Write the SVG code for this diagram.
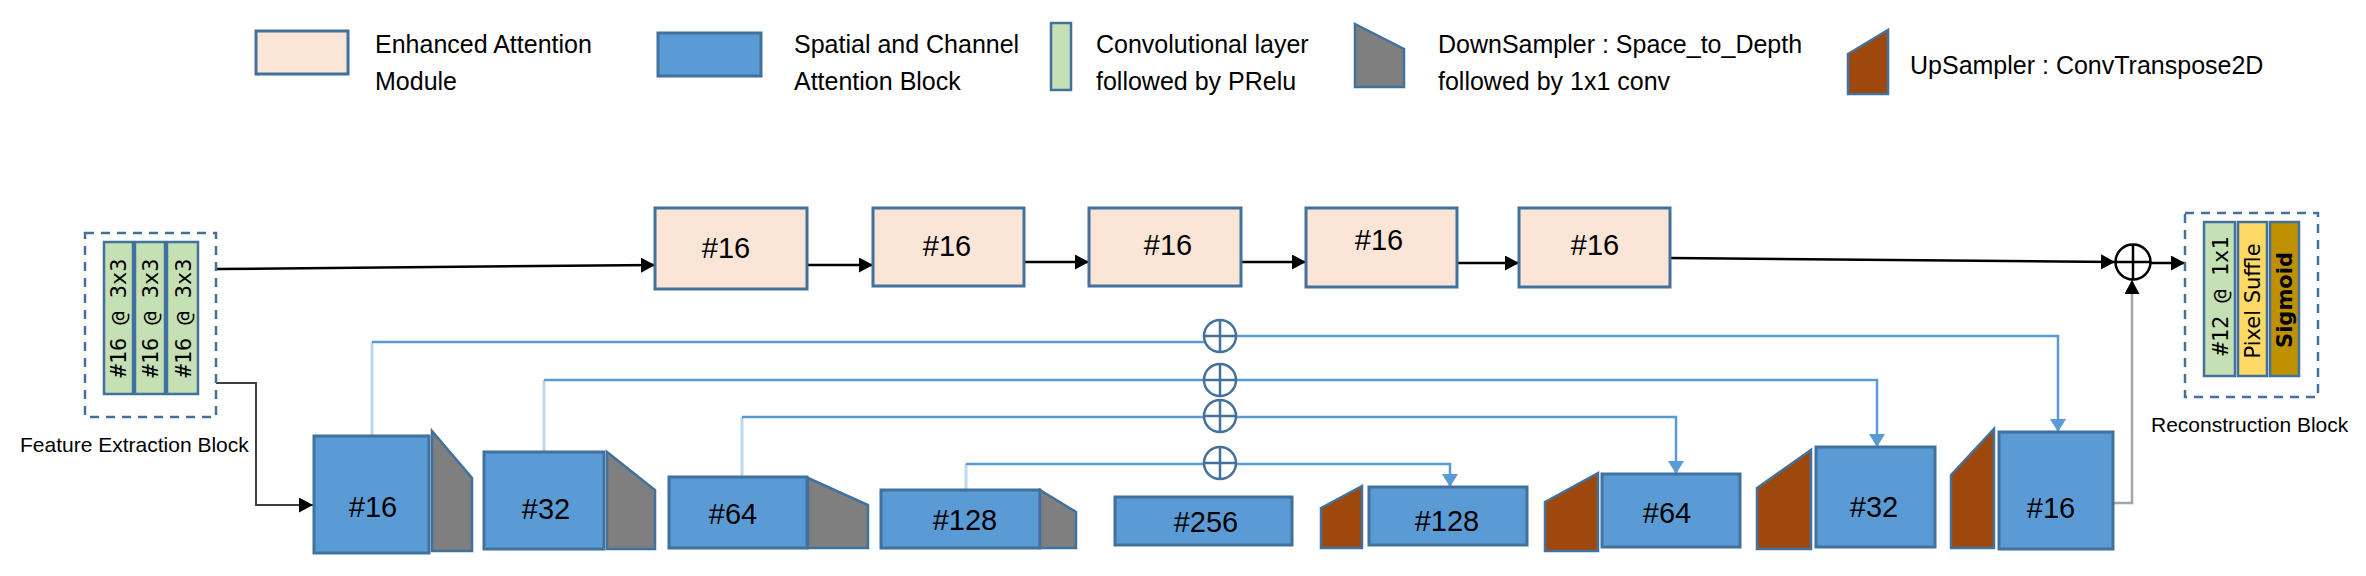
<svg xmlns="http://www.w3.org/2000/svg" width="2366" height="576" viewBox="0 0 2366 576">
<defs>
<style>
.lg{font-family:"Liberation Sans",Arial,sans-serif;font-size:25px;fill:#000}
.lb{font-family:"Liberation Sans",Arial,sans-serif;font-size:21px;fill:#000}
.num{font-family:"Liberation Sans",Arial,sans-serif;font-size:29px;fill:#000;text-anchor:middle}
.mono{font-family:"DejaVu Sans Mono","Liberation Mono",monospace;font-size:22px;fill:#000;text-anchor:middle}
.sans{font-family:"DejaVu Sans","Liberation Sans",sans-serif;font-size:21px;fill:#000;text-anchor:middle}
.eam{fill:#FBE5D6;stroke:#41719C;stroke-width:3}
.sca{fill:#5B9BD5;stroke:#41719C;stroke-width:3}
.conv{fill:#C5E0B4;stroke:#41719C;stroke-width:2.5}
.ds{fill:#7F7F7F;stroke:#41719C;stroke-width:2.5;stroke-linejoin:miter}
.us{fill:#9E480E;stroke:#41719C;stroke-width:2.5}
.dash{fill:none;stroke:#41719C;stroke-width:2.5;stroke-dasharray:9 7}
.blk{fill:none;stroke:#000;stroke-width:2.5}
.riser{fill:none;stroke:#BDD7EE;stroke-width:3}
.skip{fill:none;stroke:#5B9BD5;stroke-width:2.5}
.plus{fill:#fff;stroke:#41719C;stroke-width:2.5}
</style>
<marker id="ab" markerUnits="userSpaceOnUse" markerWidth="15" markerHeight="15" refX="14" refY="7.5" orient="auto">
<path d="M0,0 L14,7.5 L0,15 z" fill="#000"/>
</marker>
<marker id="au" markerUnits="userSpaceOnUse" markerWidth="15" markerHeight="16" refX="13" refY="8" orient="auto">
<path d="M0,0 L13,8 L0,16 z" fill="#5B9BD5"/>
</marker>
</defs>
<rect width="2366" height="576" fill="#fff"/>

<!-- Legend -->
<g id="legend">
<rect class="eam" x="256" y="31" width="92" height="43"/>
<text class="lg" x="375" y="53">Enhanced Attention</text>
<text class="lg" x="375" y="90">Module</text>
<rect class="sca" x="658" y="33" width="103" height="43"/>
<text class="lg" x="794" y="53">Spatial and Channel</text>
<text class="lg" x="794" y="90">Attention Block</text>
<rect class="conv" x="1051" y="23" width="20" height="67"/>
<text class="lg" x="1096" y="53">Convolutional layer</text>
<text class="lg" x="1096" y="90">followed by PRelu</text>
<polygon class="ds" points="1355,24 1404,49 1404,87 1355,87"/>
<text class="lg" x="1438" y="53">DownSampler : Space_to_Depth</text>
<text class="lg" x="1438" y="90">followed by 1x1 conv</text>
<polygon class="us" points="1848,54 1888,30 1888,94 1848,94"/>
<text class="lg" x="1910" y="74">UpSampler :  ConvTranspose2D</text>
</g>

<!-- Connectors -->
<g id="connectors">
<line class="blk" x1="216" y1="269" x2="655" y2="265" marker-end="url(#ab)"/>
<line class="blk" x1="807" y1="265" x2="873" y2="265" stroke-width="3" marker-end="url(#ab)"/>
<line class="blk" x1="1024" y1="262" x2="1089" y2="262" stroke-width="3" marker-end="url(#ab)"/>
<line class="blk" x1="1241" y1="262" x2="1306" y2="262" stroke-width="3" marker-end="url(#ab)"/>
<line class="blk" x1="1457" y1="263" x2="1519" y2="263" stroke-width="2" marker-end="url(#ab)"/>
<line class="blk" x1="1670" y1="258" x2="2115" y2="262" marker-end="url(#ab)"/>
<line class="blk" x1="2151" y1="263" x2="2185" y2="263" stroke-width="2" marker-end="url(#ab)"/>
<polyline points="2113,503 2132,503 2132,280" fill="none" stroke="#A5A5A5" stroke-width="2.5" marker-end="url(#ab)"/>
<polyline points="216,383 256,383 256,505 313,505" fill="none" stroke="#404040" stroke-width="2" marker-end="url(#ab)"/>
<!-- skip connections -->
<line class="riser" x1="372" y1="436" x2="372" y2="342"/>
<polyline class="skip" points="372,342 1204,342"/>
<polyline class="skip" points="1237,336 2058,336 2058,432" marker-end="url(#au)"/>
<line class="riser" x1="544" y1="452" x2="544" y2="380"/>
<polyline class="skip" points="544,380 1877,380 1877,447" marker-end="url(#au)"/>
<line class="riser" x1="742" y1="477" x2="742" y2="417"/>
<polyline class="skip" points="742,417 1676,417 1676,474" marker-end="url(#au)"/>
<line class="riser" x1="966" y1="490" x2="966" y2="464"/>
<polyline class="skip" points="966,464 1450,464 1450,487" marker-end="url(#au)"/>
</g>

<!-- Feature Extraction Block -->
<g id="feature-extraction">
<rect class="dash" x="85" y="233" width="131" height="184"/>
<rect class="conv" x="104" y="242" width="29" height="152"/>
<rect class="conv" x="135" y="242" width="30" height="152"/>
<rect class="conv" x="167" y="242" width="31" height="152"/>
<text class="mono" transform="translate(126,318) rotate(-90)">#16 @ 3x3</text>
<text class="mono" transform="translate(158,318) rotate(-90)">#16 @ 3x3</text>
<text class="mono" transform="translate(191,318) rotate(-90)">#16 @ 3x3</text>
<text class="lb" x="20" y="452">Feature Extraction Block</text>
</g>

<!-- Enhanced Attention Modules -->
<g id="eam1"><rect class="eam" x="655" y="208" width="152" height="81"/><text class="num" x="726" y="258">#16</text></g>
<g id="eam2"><rect class="eam" x="873" y="208" width="151" height="78"/><text class="num" x="947" y="256">#16</text></g>
<g id="eam3"><rect class="eam" x="1089" y="208" width="152" height="78"/><text class="num" x="1168" y="255">#16</text></g>
<g id="eam4"><rect class="eam" x="1306" y="208" width="151" height="79"/><text class="num" x="1379" y="250">#16</text></g>
<g id="eam5"><rect class="eam" x="1519" y="208" width="151" height="79"/><text class="num" x="1595" y="255">#16</text></g>

<!-- Encoder -->
<g id="enc16"><rect class="sca" x="314" y="436" width="115" height="117"/><text class="num" x="373" y="517">#16</text></g>
<g id="ds1"><polygon class="ds" points="432,431 472,478 472,551 432,551"/></g>
<g id="enc32"><rect class="sca" x="484" y="452" width="120" height="97"/><text class="num" x="546" y="519">#32</text></g>
<g id="ds2"><polygon class="ds" points="607,452 655,490 655,549 607,549"/></g>
<g id="enc64"><rect class="sca" x="669" y="477" width="138" height="71"/><text class="num" x="733" y="524">#64</text></g>
<g id="ds3"><polygon class="ds" points="808,478 868,505 868,548 808,548"/></g>
<g id="enc128"><rect class="sca" x="881" y="490" width="159" height="58"/><text class="num" x="965" y="530">#128</text></g>
<g id="ds4"><polygon class="ds" points="1040,490 1076,512 1076,548 1040,548"/></g>
<g id="bottleneck256"><rect class="sca" x="1115" y="497" width="177" height="48"/><text class="num" x="1206" y="532">#256</text></g>

<!-- Decoder -->
<g id="us1"><polygon class="us" points="1321,508 1362,486 1362,548 1321,548"/></g>
<g id="dec128"><rect class="sca" x="1369" y="487" width="158" height="58"/><text class="num" x="1447" y="531">#128</text></g>
<g id="us2"><polygon class="us" points="1545,502 1598,473 1598,551 1545,551"/></g>
<g id="dec64"><rect class="sca" x="1602" y="474" width="138" height="73"/><text class="num" x="1667" y="523">#64</text></g>
<g id="us3"><polygon class="us" points="1757,488 1811,450 1811,549 1757,549"/></g>
<g id="dec32"><rect class="sca" x="1816" y="447" width="119" height="100"/><text class="num" x="1874" y="517">#32</text></g>
<g id="us4"><polygon class="us" points="1951,475 1994,429 1994,548 1951,548"/></g>
<g id="dec16"><rect class="sca" x="1999" y="432" width="114" height="117"/><text class="num" x="2051" y="518">#16</text></g>

<!-- Skip additions -->
<g id="add1"><circle class="plus" cx="1220" cy="336" r="16"/><path d="M1204,336 H1236 M1220,320 V352" stroke="#41719C" stroke-width="2.5"/></g>
<g id="add2"><circle class="plus" cx="1220" cy="380" r="16"/><path d="M1204,380 H1236 M1220,364 V396" stroke="#41719C" stroke-width="2.5"/></g>
<g id="add3"><circle class="plus" cx="1220" cy="416" r="16"/><path d="M1204,416 H1236 M1220,400 V432" stroke="#41719C" stroke-width="2.5"/></g>
<g id="add4"><circle class="plus" cx="1220" cy="463" r="16"/><path d="M1204,463 H1236 M1220,447 V479" stroke="#41719C" stroke-width="2.5"/></g>

<!-- Global addition -->
<g id="add-global"><circle cx="2133" cy="262" r="17.5" fill="#fff" stroke="#000" stroke-width="2.5"/><path d="M2115.5,262 H2150.5 M2133,244.5 V279.5" stroke="#000" stroke-width="2.5"/></g>

<!-- Reconstruction Block -->
<g id="reconstruction">
<rect class="dash" x="2185" y="213" width="133" height="184"/>
<rect class="conv" x="2204" y="222" width="31" height="154"/>
<rect x="2238" y="222" width="29" height="154" fill="#FFD966" stroke="#41719C" stroke-width="2.5"/>
<rect x="2270" y="222" width="29" height="154" fill="#BF9000" stroke="#41719C" stroke-width="2.5"/>
<text class="mono" transform="translate(2228,296) rotate(-90)">#12 @ 1x1</text>
<text class="sans" transform="translate(2260,301) rotate(-90)">Pixel Suffle</text>
<text class="sans" font-weight="bold" transform="translate(2292,300) rotate(-90)">Sigmoid</text>
<text class="lb" x="2151" y="432">Reconstruction Block</text>
</g>
</svg>
